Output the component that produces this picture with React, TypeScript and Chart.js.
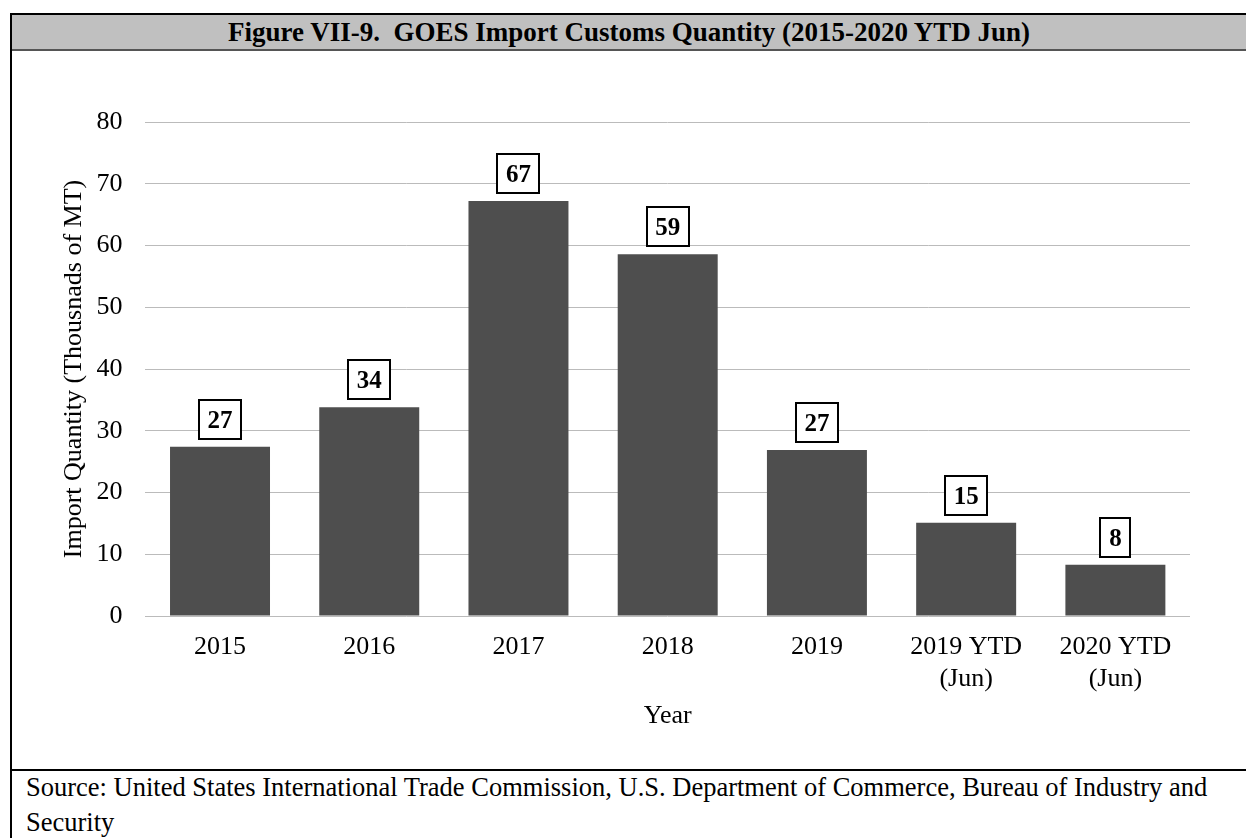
import React, { useEffect, useRef } from "react";
import { Chart, registerables } from "chart.js";

Chart.register(...registerables);

const categories: string[][] = [
  ["2015"],
  ["2016"],
  ["2017"],
  ["2018"],
  ["2019"],
  ["2019 YTD", "(Jun)"],
  ["2020 YTD", "(Jun)"],
];
const values: number[] = [27.4, 33.8, 67.2, 58.6, 26.9, 15.1, 8.3];
const valueLabels: string[] = ["27", "34", "67", "59", "27", "15", "8"];
const yMin = 0;
const yMax = 80;
const yStep = 10;

const titleText = "Figure VII-9.  GOES Import Customs Quantity (2015-2020 YTD Jun)";
const yTitle = "Import Quantity (Thousnads of MT)";
const xTitle = "Year";
const sourceLine1 =
  "Source: United States International Trade Commission, U.S. Department of Commerce, Bureau of Industry and";
const sourceLine2 = "Security";

const SERIF = '"Liberation Serif", "Times New Roman", Times, serif';

const boxLabels = {
  id: "boxLabels",
  afterDatasetsDraw(chart: any) {
    const ctx = chart.ctx as CanvasRenderingContext2D;
    const meta = chart.getDatasetMeta(0);
    ctx.save();
    ctx.font = `bold 25px ${SERIF}`;
    meta.data.forEach((bar: any, i: number) => {
      const t = valueLabels[i];
      const tw = ctx.measureText(t).width;
      const w = Math.round(tw + 17);
      const h = 39;
      const x = Math.round(bar.x - w / 2);
      const y = Math.round(bar.y - 8 - h);
      ctx.fillStyle = "#ffffff";
      ctx.fillRect(x, y, w, h);
      ctx.lineWidth = 2;
      ctx.strokeStyle = "#000000";
      ctx.strokeRect(x, y, w, h);
      ctx.fillStyle = "#000000";
      ctx.textAlign = "center";
      ctx.textBaseline = "middle";
      ctx.fillText(t, bar.x, y + h / 2 + 2);
    });
    ctx.restore();
  },
};

export default function App() {
  const canvasRef = useRef<HTMLCanvasElement | null>(null);

  useEffect(() => {
    if (!canvasRef.current) return;
    const chart = new Chart(canvasRef.current, {
      type: "bar",
      data: {
        labels: categories,
        datasets: [
          {
            data: values,
            backgroundColor: "#4e4e4e",
            borderWidth: 0,
            categoryPercentage: 1,
            barPercentage: 0.67,
          },
        ],
      },
      options: {
        responsive: false,
        animation: false,
        devicePixelRatio: 1,
        layout: {
          padding: { left: 55, right: 56, top: 122, bottom: 102 },
        },
        plugins: {
          legend: { display: false },
          tooltip: { enabled: false },
          title: { display: false },
        },
        scales: {
          x: {
            grid: { display: false, drawTicks: false },
            border: { display: false },
            ticks: {
              color: "#000",
              font: { family: SERIF, size: 26 },
              padding: 16,
              maxRotation: 0,
              autoSkip: false,
            },
            title: {
              display: true,
              text: xTitle,
              color: "#000",
              font: { family: SERIF, size: 26 },
              padding: { top: 4, bottom: 4 },
            },
            afterFit(scale: any) {
              scale.height = 120;
            },
          },
          y: {
            min: yMin,
            max: yMax,
            grid: {
              color: "#bbbbbb",
              lineWidth: 1,
              drawTicks: false,
            },
            border: { display: false },
            ticks: {
              stepSize: yStep,
              color: "#000",
              font: { family: SERIF, size: 26 },
              padding: 23,
            },
            title: {
              display: true,
              text: yTitle,
              color: "#000",
              font: { family: SERIF, size: 26 },
              padding: { top: 4, bottom: 4 },
            },
            afterFit(scale: any) {
              scale.width = 90.4;
            },
          },
        },
      },
      plugins: [boxLabels],
    });
    return () => chart.destroy();
  }, []);

  return (
    <div
      style={{
        position: "absolute",
        left: 0,
        top: 0,
        width: 1246,
        height: 838,
        overflow: "hidden",
        background: "#fff",
        fontFamily: SERIF,
      }}
    >
      <div
        style={{
          position: "absolute",
          left: 10,
          top: 13,
          width: 1240,
          height: 830,
          borderLeft: "2px solid #000",
          borderTop: "2px solid #000",
        }}
      />
      <div
        style={{
          position: "absolute",
          left: 12,
          top: 15,
          width: 1234,
          height: 34,
          background: "#c0c0c0",
          borderBottom: "2px solid #555",
          display: "flex",
          alignItems: "center",
          justifyContent: "center",
          fontWeight: "bold",
          fontSize: 27,
          color: "#000",
          whiteSpace: "pre",
        }}
      >
        {titleText}
      </div>
      <div
        style={{
          position: "absolute",
          left: 12,
          top: 769,
          width: 1234,
          height: 2,
          background: "#000",
        }}
      />
      <div
        style={{
          position: "absolute",
          left: 26,
          top: 770,
          fontSize: 26.5,
          lineHeight: "35px",
          color: "#000",
          whiteSpace: "nowrap",
        }}
      >
        {sourceLine1}
        <br />
        {sourceLine2}
      </div>
      <canvas
        ref={canvasRef}
        width={1246}
        height={838}
        style={{ position: "absolute", left: 0, top: 0, width: 1246, height: 838 }}
      />
    </div>
  );
}
